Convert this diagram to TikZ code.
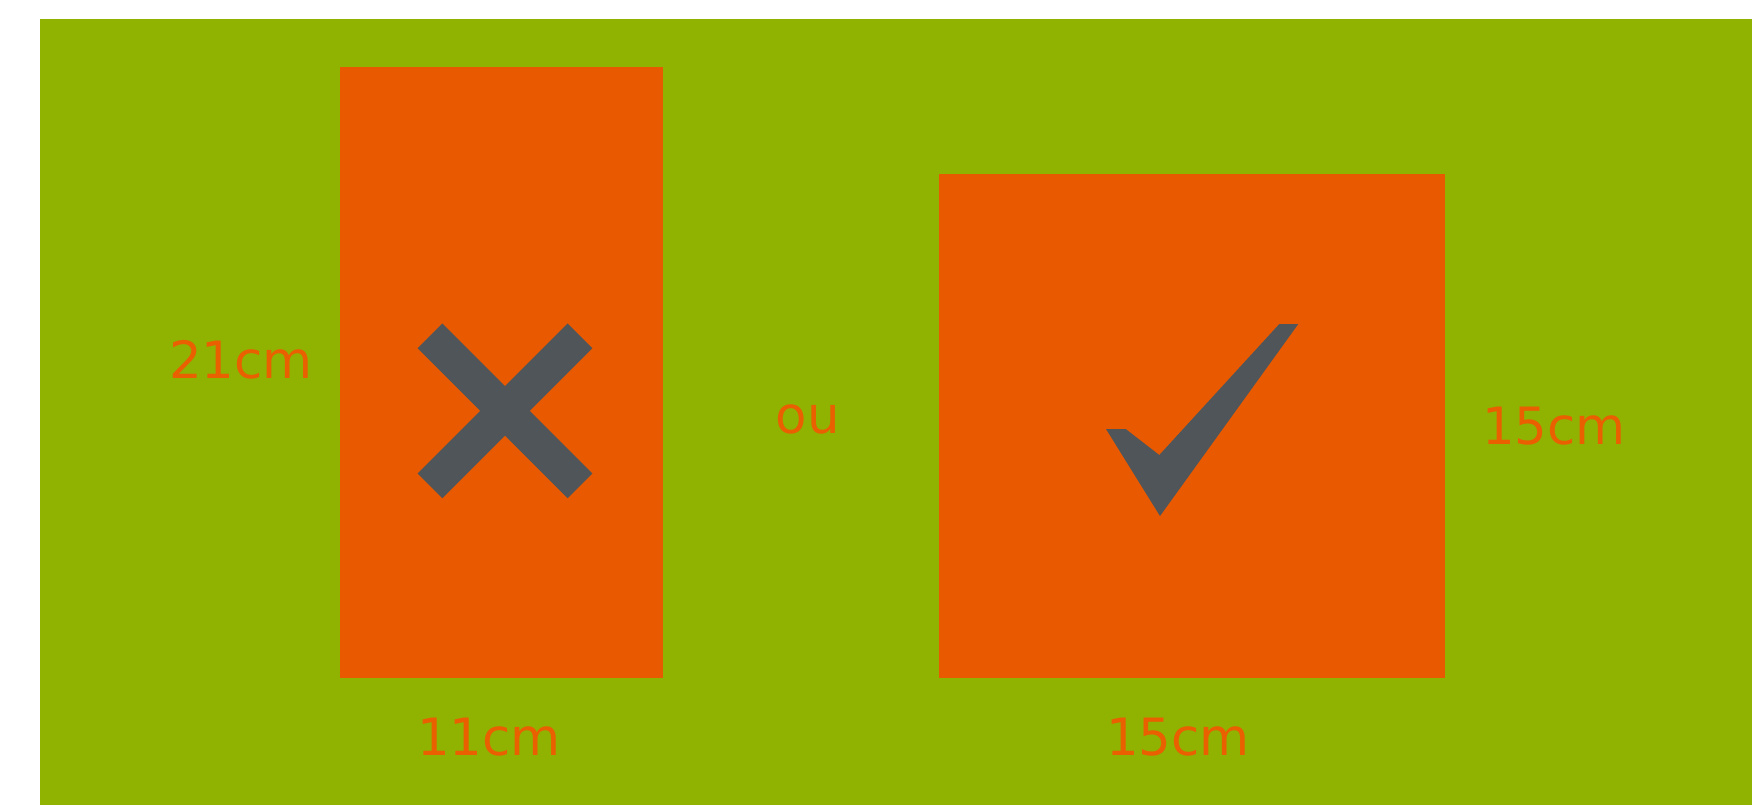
\documentclass[tikz,border=0pt]{standalone}
\usepackage{fontspec}
\setmainfont{DejaVu Sans}
\newfontfamily\dimfont[Scale=2.57]{DejaVu Sans}
\definecolor{bggreen}{RGB}{143,179,0}
\definecolor{boxorange}{RGB}{233,90,0}
\definecolor{markgray}{RGB}{79,85,89}
\definecolor{txtorange}{RGB}{234,96,0}
\begin{document}
\begin{tikzpicture}[x=0.5pt,y=-0.5pt,
  panel/.style={fill=boxorange,draw=none},
  dimlabel/.style={inner sep=0pt,text=txtorange,font=\normalsize\dimfont},
  markstroke/.style={draw=markgray,line width=17.5pt,line cap=butt}]
\useasboundingbox (0,0) rectangle (1752,805);
\fill[white] (0,0) rectangle (1752,805);
\fill[bggreen] (40,19) rectangle (1752,805);
% panels
\path[panel] (340,67) rectangle (663,678);
\path[panel] (938.5,174) rectangle (1445,678);
% cross
\coordinate (xa) at (430,335.8);
\coordinate (xb) at (580,485.8);
\coordinate (xc) at (580,335.8);
\coordinate (xd) at (430,485.8);
\draw[markstroke] (xa) -- (xb);
\draw[markstroke] (xc) -- (xd);
% check mark
\fill[markgray] (1106,429) -- (1125.7,429) -- (1159.3,455) -- (1279.3,324) -- (1298.3,324) -- (1160,516) -- cycle;
% labels
\node[dimlabel] (h21) at (241,360) {21cm};
\node[dimlabel] (w11) at (489,737) {11cm};
\node[dimlabel] (ou) at (808,419) {ou};
\node[dimlabel] (h15) at (1554,426) {15cm};
\node[dimlabel] (w15) at (1178,737) {15cm};
\end{tikzpicture}
\end{document}
